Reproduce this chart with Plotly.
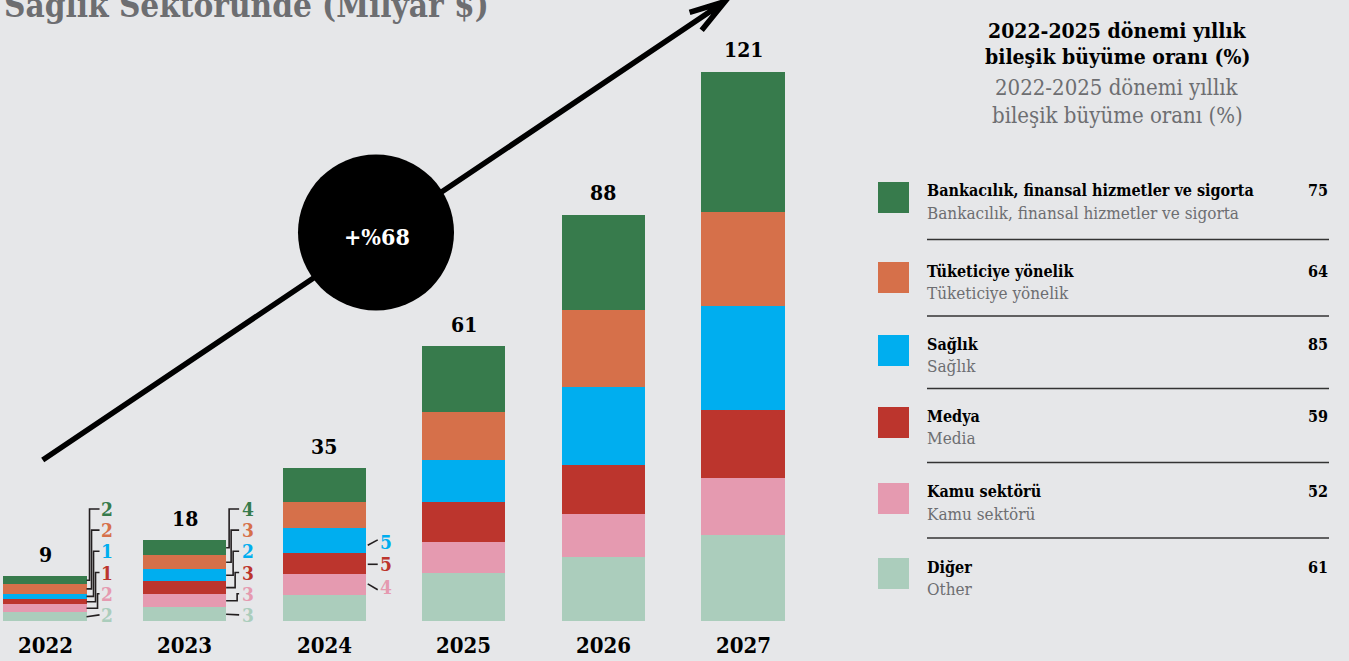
import math
import plotly.graph_objects as go

# ---------------- data ----------------
years = ["2022", "2023", "2024", "2025", "2026", "2027"]
totals = ["9", "18", "35", "61", "88", "121"]

# segment values (billion $)
diger = [1.9, 3.0, 5.7, 10.5, 14.1, 19.0]
kamu = [1.8, 2.9, 4.6, 6.9, 9.5, 12.6]
medya = [1.1, 2.9, 4.6, 8.9, 10.8, 14.8]
saglik = [1.25, 2.6, 5.6, 9.2, 17.2, 23.1]
tuketici = [2.05, 3.1, 5.7, 10.6, 17.0, 20.7]
bankacilik = [1.75, 3.3, 7.5, 14.5, 20.9, 30.9]

# printed small segment labels (top -> bottom)
labels_2022 = ["2", "2", "1", "1", "2", "2"]
labels_2023 = ["4", "3", "2", "3", "3", "3"]
labels_2024 = ["5", "5", "4"]  # Sağlık, Medya, Kamu

cagr = ["75", "64", "85", "59", "52", "61"]
legend_main = ["Bankacılık, finansal hizmetler ve sigorta", "Tüketiciye yönelik",
               "Sağlık", "Medya", "Kamu sektörü", "Diğer"]
legend_sub = ["Bankacılık, finansal hizmetler ve sigorta", "Tüketiciye yönelik",
              "Sağlık", "Media", "Kamu sektörü", "Other"]

growth_text = "+%68"
title_text = "Sağlık Sektöründe (Milyar $)"
header_text = ["2022-2025 dönemi yıllık", "bileşik büyüme oranı (%)"]

# ---------------- style ----------------
W, H = 1349, 661
BG = "#e6e7e9"
GREY = "#6d6e71"
INK = "#231f20"
C_BANK = "#377b4c"
C_TUK = "#d6704a"
C_SAG = "#00aeef"
C_MED = "#bc352d"
C_KAMU = "#e59ab0"
C_DIG = "#abcdbc"
FONT = "DejaVu Serif Condensed, DejaVu Serif, serif"

series = [  # bottom -> top
    ("Diğer", diger, C_DIG),
    ("Kamu sektörü", kamu, C_KAMU),
    ("Medya", medya, C_MED),
    ("Sağlık", saglik, C_SAG),
    ("Tüketiciye yönelik", tuketici, C_TUK),
    ("Bankacılık", bankacilik, C_BANK),
]

BASE_PX = 621.0
PX_PER_UNIT = 4.537
X0_PX = 45.0
PX_PER_CAT = 139.6
BAR_W = 0.595


def px(x):
    return x / W


def py(y):
    return 1 - y / H


fig = go.Figure()
xs = list(range(len(years)))
for name, vals, col in series:
    fig.add_trace(go.Bar(x=xs, y=vals, name=name, width=BAR_W,
                         marker=dict(color=col, line=dict(width=0)),
                         hoverinfo="skip", showlegend=False))

annotations = []
shapes = []

# totals and years
stack_tot = [sum(s[1][i] for s in series) for i in xs]
for i in xs:
    annotations.append(dict(x=i, y=stack_tot[i], xref="x", yref="y", text=totals[i],
                            showarrow=False, yanchor="middle", yshift=22,
                            font=dict(family=FONT, size=21, color="#000", weight="bold")))
    annotations.append(dict(x=i, y=0, xref="x", yref="y", text=years[i],
                            showarrow=False, yanchor="middle", yshift=-24,
                            font=dict(family=FONT, size=22, color="#000", weight="bold")))


# segment midpoints per category (top -> bottom order)
def mids(i):
    cum = 0
    out = []
    for _, vals, col in series:
        out.append((cum + vals[i] / 2, col))
        cum += vals[i]
    return out[::-1]


LABEL_TOP = 24.7
LABEL_STEP = 4.67
elbows = [3, 5, 7, 9, 11]
for i, labs, lshift in [(0, labels_2022, 12), (1, labels_2023, 14)]:
    m = mids(i)
    anchor = i + BAR_W / 2
    for k, (mid, col) in enumerate(m):
        ly = LABEL_TOP - k * LABEL_STEP
        if k < 5:
            e = elbows[k]
            path = f"M0,{mid} L{e},{mid} L{e},{ly} L13,{ly}"
        else:
            path = f"M0,{mid} L13,{ly}"
        shapes.append(dict(type="path", path=path, xref="x", yref="y",
                           xsizemode="pixel", xanchor=anchor,
                           line=dict(color=INK, width=1.6)))
        annotations.append(dict(x=anchor, y=ly, xref="x", yref="y", text=labs[k],
                                showarrow=False, xanchor="left", yanchor="middle",
                                xshift=lshift,
                                font=dict(family=FONT, size=19, color=col, weight="bold")))

# 2024 labels (Sağlık, Medya, Kamu)
m24 = mids(2)[2:5]
slants = [1.2, 0.0, -1.3]
anchor = 2 + BAR_W / 2
for k, ((mid, col), lab) in enumerate(zip(m24, labels_2024)):
    ly = mid - 0.3 if k == 0 else (mid - 0.1 if k == 1 else mid - 0.6)
    shapes.append(dict(type="path", path=f"M2,{ly - slants[k] * 0.6} L12,{ly + slants[k] * 0.4}",
                       xref="x", yref="y", xsizemode="pixel", xanchor=anchor,
                       line=dict(color=INK, width=1.6)))
    annotations.append(dict(x=anchor, y=ly, xref="x", yref="y", text=lab,
                            showarrow=False, xanchor="left", yanchor="middle", xshift=12,
                            font=dict(family=FONT, size=19, color=col, weight="bold")))

# growth arrow
sx, sy = 42.7, 460.0
tx, ty = 725.0, 1.5
ang = math.atan2(sy - ty, sx - tx)
arms = []
for d in (math.radians(17), -math.radians(17)):
    arms.append((tx + 37 * math.cos(ang + d), ty + 37 * math.sin(ang + d)))
path = (f"M{px(sx)},{py(sy)} L{px(tx)},{py(ty)} "
        f"M{px(arms[0][0])},{py(arms[0][1])} L{px(tx)},{py(ty)} L{px(arms[1][0])},{py(arms[1][1])}")
shapes.append(dict(type="path", path=path, xref="paper", yref="paper",
                   line=dict(color="#000", width=5.5)))
cx, cy, r = 376, 232.5, 78
shapes.append(dict(type="circle", xref="paper", yref="paper",
                   x0=px(cx - r), x1=px(cx + r), y0=py(cy + r), y1=py(cy - r),
                   fillcolor="#000", line=dict(color="#000", width=0)))
annotations.append(dict(x=px(cx + 1), y=py(cy + 4), xref="paper", yref="paper", text=growth_text,
                        showarrow=False, xanchor="center", yanchor="middle",
                        font=dict(family=FONT, size=23, color="#fff", weight="bold")))

# title (clipped at top, as in the source graphic)
annotations.append(dict(x=px(491), y=py(27), xref="paper", yref="paper", text=title_text,
                        showarrow=False, xanchor="right", yanchor="bottom",
                        font=dict(family=FONT, size=33, color=GREY, weight="bold")))

# right-hand header
for j, t in enumerate(header_text):
    annotations.append(dict(x=px(1117), y=py(30 + 27 * j), xref="paper", yref="paper", text=t,
                            showarrow=False, xanchor="center", yanchor="middle",
                            font=dict(family=FONT, size=21, color="#000", weight="bold")))
    annotations.append(dict(x=px(1117), y=py(88 + 27 * j), xref="paper", yref="paper", text=t,
                            showarrow=False, xanchor="center", yanchor="middle",
                            font=dict(family=FONT, size=22, color=GREY)))

# legend rows
row_tops = [182, 262, 335, 407, 483, 558]
leg_cols = [C_BANK, C_TUK, C_SAG, C_MED, C_KAMU, C_DIG]
for k, top in enumerate(row_tops):
    shapes.append(dict(type="rect", xref="paper", yref="paper",
                       x0=px(878), x1=px(909), y0=py(top + 31), y1=py(top),
                       fillcolor=leg_cols[k], line=dict(width=0)))
    annotations.append(dict(x=px(925), y=py(top + 9), xref="paper", yref="paper",
                            text=legend_main[k], showarrow=False, xanchor="left", yanchor="middle",
                            font=dict(family=FONT, size=16, color="#000", weight="bold")))
    annotations.append(dict(x=px(925), y=py(top + 31), xref="paper", yref="paper",
                            text=legend_sub[k], showarrow=False, xanchor="left", yanchor="middle",
                            font=dict(family=FONT, size=17, color=GREY)))
    annotations.append(dict(x=px(1330), y=py(top + 9), xref="paper", yref="paper",
                            text=cagr[k], showarrow=False, xanchor="right", yanchor="middle",
                            font=dict(family=FONT, size=16, color="#000", weight="bold")))
    if k < len(row_tops) - 1:
        sep = (top + 31 + row_tops[k + 1]) / 2 + 2
        shapes.append(dict(type="line", xref="paper", yref="paper",
                           x0=px(927), x1=px(1329), y0=py(sep), y1=py(sep),
                           line=dict(color="#333", width=1.5)))

fig.update_layout(
    width=W, height=H, margin=dict(l=0, r=0, t=0, b=0),
    paper_bgcolor=BG, plot_bgcolor=BG, barmode="stack", bargap=0,
    xaxis=dict(visible=False, range=[-X0_PX / PX_PER_CAT, (W - X0_PX) / PX_PER_CAT],
               domain=[0, 1], fixedrange=True),
    yaxis=dict(visible=False, range=[-(H - BASE_PX) / PX_PER_UNIT, BASE_PX / PX_PER_UNIT],
               domain=[0, 1], fixedrange=True),
    annotations=annotations, shapes=shapes, showlegend=False,
)

fig.write_html("out.html", config={"displayModeBar": False},
               post_script="document.body.style.margin='0';document.body.style.overflow='hidden';")
